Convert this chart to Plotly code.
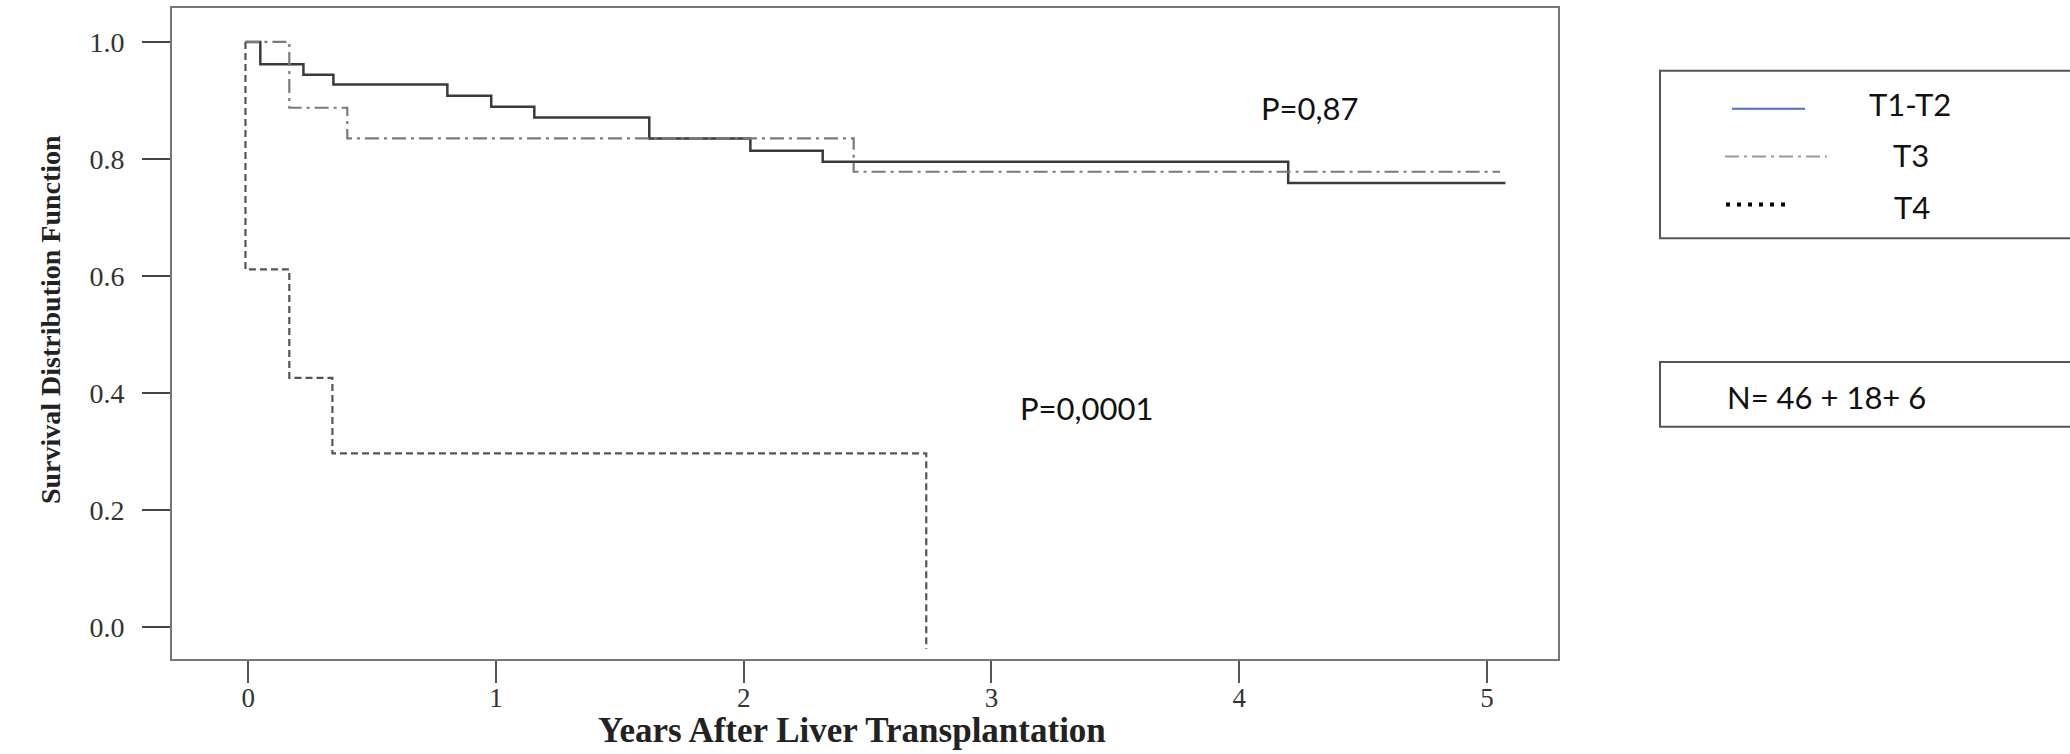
import plotly.graph_objects as go

# Kaplan-Meier step curves (years after transplantation, survival probability)
t12_years = [-0.011, 0.049, 0.223, 0.344, 0.804, 0.981, 1.155, 1.619, 2.027, 2.319, 4.198, 5.075]
t12_surv = [1.0, 0.962, 0.944, 0.927, 0.908, 0.889, 0.871, 0.835, 0.814, 0.795, 0.759, 0.759]

t3_years = [-0.011, 0.166, 0.400, 2.444, 5.053]
t3_surv = [1.0, 0.8875, 0.835, 0.778, 0.778]

t4_years = [-0.011, -0.011, 0.166, 0.340, 2.737]
t4_surv = [1.0, 0.611, 0.4256, 0.2966, -0.038]

x_ticks = [0, 1, 2, 3, 4, 5]
y_ticks = [0.0, 0.2, 0.4, 0.6, 0.8, 1.0]

legend_labels = ["T1-T2", "T3", "T4"]
n_label = "N= 46 + 18+ 6"
p_labels = ["P=0,87", "P=0,0001"]

W, H = 2070, 754
L, R, T, B = 172, 1558, 6, 659


def px(xp):
    return (xp - L) / (R - L)


def py(yp):
    return (B - yp) / (B - T)


fig = go.Figure()
fig.add_trace(go.Scatter(x=t12_years, y=t12_surv, mode="lines", line_shape="hv",
                         name=legend_labels[0], showlegend=False,
                         line=dict(color="#3a3a3a", width=2.5)))
fig.add_trace(go.Scatter(x=t3_years, y=t3_surv, mode="lines", line_shape="hv",
                         name=legend_labels[1], showlegend=False,
                         line=dict(color="#7a7a7a", width=2.2, dash="14px,5px,3px,5px")))
fig.add_trace(go.Scatter(x=t4_years, y=t4_surv, mode="lines", line_shape="hv",
                         name=legend_labels[2], showlegend=False,
                         line=dict(color="#555555", width=2.2, dash="7px,4px")))

serif = "Liberation Serif, Times New Roman, serif"
sans = "Lato, Open Sans, sans-serif"

fig.update_xaxes(range=[-0.3075, 5.287], tickvals=x_ticks, ticks="outside", ticklen=22,
                 tickwidth=2, tickcolor="#555", showline=True, linecolor="#777",
                 linewidth=2, mirror=True, showgrid=False, zeroline=False,
                 tickfont=dict(family=serif, size=27, color="#333"), ticklabelstandoff=-8)
fig.update_yaxes(range=[-0.055, 1.058], tickvals=y_ticks, tickformat=".1f",
                 ticks="outside", ticklen=28, tickwidth=2, tickcolor="#444",
                 showline=True, linecolor="#777", linewidth=2, mirror=True,
                 showgrid=False, zeroline=False,
                 tickfont=dict(family=serif, size=28, color="#333"), ticklabelstandoff=12)

annotations = [
    dict(text="<b>Survival Distribution Function</b>", x=px(50), y=py(319), textangle=-90,
         font=dict(family=serif, size=28, color="#222")),
    dict(text="<b>Years After Liver Transplantation</b>", x=px(852), y=py(731),
         font=dict(family=serif, size=35, color="#222")),
    dict(text=p_labels[0], x=px(1310), y=py(106), font=dict(family=sans, size=31, color="#111")),
    dict(text=p_labels[1], x=px(1087), y=py(407), font=dict(family=sans, size=31, color="#111")),
    dict(text=legend_labels[0], x=px(1910), y=py(102), font=dict(family=sans, size=31, color="#111")),
    dict(text=legend_labels[1], x=px(1911), y=py(153), font=dict(family=sans, size=31, color="#111")),
    dict(text=legend_labels[2], x=px(1912), y=py(206), font=dict(family=sans, size=31, color="#111")),
    dict(text=n_label, x=px(1725), y=py(396), xanchor="left",
         font=dict(family=sans, size=31, color="#111")),
]
for a in annotations:
    a.setdefault("xanchor", "center")
    a.update(xref="paper", yref="paper", yanchor="middle", showarrow=False)

shapes = [
    # legend frames (extend past the right edge of the page)
    dict(type="rect", x0=px(1660), x1=px(2085), y0=py(237), y1=py(69),
         line=dict(color="#555", width=2)),
    dict(type="rect", x0=px(1660), x1=px(2085), y0=py(426), y1=py(361),
         line=dict(color="#555", width=2)),
    # legend line samples
    dict(type="line", x0=px(1732), x1=px(1805), y0=py(107), y1=py(107),
         line=dict(color="#4472C4", width=2)),
    dict(type="line", x0=px(1725), x1=px(1827), y0=py(155), y1=py(155),
         line=dict(color="#9a9a9a", width=2, dash="14px,5px,3px,5px")),
    dict(type="line", x0=px(1726), x1=px(1790), y0=py(203), y1=py(203),
         line=dict(color="#000", width=4, dash="4px,7px")),
]
for s in shapes:
    s.update(xref="paper", yref="paper")

fig.update_layout(width=W, height=H, margin=dict(l=L, r=W - R, t=T, b=H - B),
                  paper_bgcolor="white", plot_bgcolor="white",
                  annotations=annotations, shapes=shapes)

fig.write_html("out.html")
